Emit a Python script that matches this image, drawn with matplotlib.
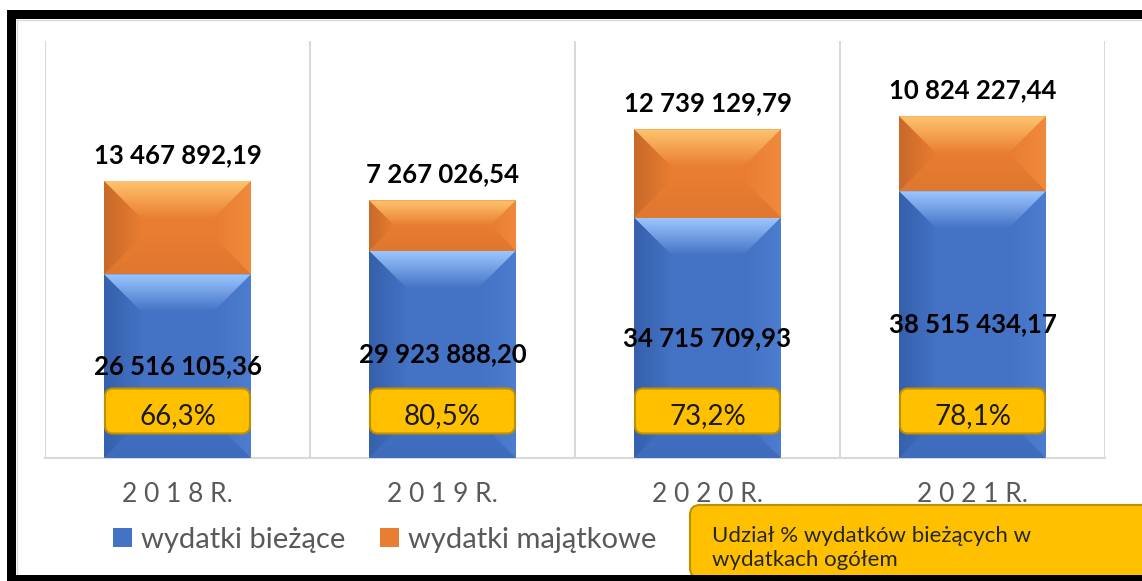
import matplotlib
matplotlib.use('Agg')
import matplotlib.pyplot as plt
import numpy as np
from matplotlib.patches import Polygon, FancyBboxPatch, Rectangle, Patch
from matplotlib.colors import LinearSegmentedColormap

years = ['2018', '2019', '2020', '2021']
biezace = [26516105.36, 29923888.20, 34715709.93, 38515434.17]
majatkowe = [13467892.19, 7267026.54, 12739129.79, 10824227.44]
udzial = [66.3, 80.5, 73.2, 78.1]
series_names = ['wydatki bieżące', 'wydatki majątkowe']
note = 'Udział % wydatków bieżących w\nwydatkach ogółem'

plt.rcParams['font.family'] = ['Lato', 'DejaVu Sans']

W, H = 1142, 581
BLUE = dict(base='#4472C4', top='#9CC6FF', left='#3560AC', right='#4D7DCF', bottom='#3E6BBB')
ORANGE = dict(base='#E97D31', top='#FFC46E', left='#C8692A', right='#F08A3C', bottom='#DF772F')


def pl(v):
    return f'{v:,.2f}'.replace(',', ' ').replace('.', ',')


def fx(x):
    return x / W


def fy(y_top):
    return 1 - y_top / H


def bevel(ax, rect, c, sx, sy, b_px=38):
    x0, y0 = rect.get_x(), rect.get_y()
    w, h = rect.get_width(), rect.get_height()
    x1, y1 = x0 + w, y0 + h
    bpx = min(b_px, h * sy / 2, w * sx / 2)
    bx, by = bpx / sx, bpx / sy
    g = np.linspace(0, 1, 64)
    faces = [
        ([(x0, y1), (x1, y1), (x1 - bx, y1 - by), (x0 + bx, y1 - by)],
         (x0, x1, y1 - by, y1), g[:, None], c['top']),
        ([(x0, y0), (x1, y0), (x1 - bx, y0 + by), (x0 + bx, y0 + by)],
         (x0, x1, y0, y0 + by), g[::-1, None], c['bottom']),
        ([(x0, y0), (x0, y1), (x0 + bx, y1 - by), (x0 + bx, y0 + by)],
         (x0, x0 + bx, y0, y1), g[None, ::-1], c['left']),
        ([(x1, y0), (x1, y1), (x1 - bx, y1 - by), (x1 - bx, y0 + by)],
         (x1 - bx, x1, y0, y1), g[None, :], c['right']),
    ]
    for pts, ext, arr, edge in faces:
        poly = Polygon(pts, closed=True, fc='none', ec='none', transform=ax.transData)
        ax.add_patch(poly)
        cmap = LinearSegmentedColormap.from_list('f', [c['base'], edge])
        im = ax.imshow(arr, cmap=cmap, vmin=0, vmax=1, extent=ext, origin='lower',
                       aspect='auto', interpolation='bilinear', zorder=3)
        im.set_clip_path(poly)


fig = plt.figure(figsize=(W / 100, H / 100), dpi=100)
ax = fig.add_axes([fx(45), fy(458), (1105 - 45) / W, (458 - 41) / H])

x = np.arange(len(years))
ymax = 60.2e6
ax.set_xlim(-0.5, 3.5)
ax.set_ylim(0, ymax)
sx = ax.bbox.width / 4.0
sy = ax.bbox.height / ymax

b1 = ax.bar(x, biezace, width=0.555, color=BLUE['base'], zorder=2)
b2 = ax.bar(x, majatkowe, bottom=biezace, width=0.555, color=ORANGE['base'], zorder=2)
for r in b1:
    bevel(ax, r, BLUE, sx, sy)
for r in b2:
    bevel(ax, r, ORANGE, sx, sy)

for xi, b, m in zip(x, biezace, majatkowe):
    ax.text(xi, b / 2, pl(b), ha='center', va='center', fontsize=18.5,
            fontweight='bold', color='black', zorder=6)
    ax.annotate(pl(m), (xi, b + m), xytext=(0, 10), textcoords='offset points',
                ha='center', va='bottom', fontsize=18.5, fontweight='bold',
                color='black', zorder=6)

for gx in np.arange(-0.5, 4, 1):
    ax.axvline(gx, color='#D9D9D9', lw=1.5, zorder=1)
for s in ['top', 'right', 'left']:
    ax.spines[s].set_visible(False)
ax.spines['bottom'].set_color('#D9D9D9')
ax.spines['bottom'].set_linewidth(1.5)
ax.set_yticks([])
ax.set_xticks(x)
ax.set_xticklabels([' '.join(list(y)) + ' R.' for y in years], fontsize=19,
                   color='#595959')
ax.tick_params(axis='x', length=0, pad=17)
ax.set_xlim(-0.5, 3.5)
ax.set_ylim(0, ymax)

# yellow share boxes
bw, bh = 145, 45
for xi, p in zip(x, udzial):
    cx, cy = ax.transData.transform((xi, 47 / sy))
    box = FancyBboxPatch(((cx - bw / 2) / W, (cy - bh / 2) / H), bw / W, bh / H,
                         boxstyle=f'round,pad=0,rounding_size={8 / W}',
                         mutation_aspect=W / H, fc='#FFC000', ec='#BF9000', lw=1.5,
                         transform=fig.transFigure, zorder=7)
    fig.add_artist(box)
    fig.text(cx / W, (cy - 5) / H, f'{p:.1f}%'.replace('.', ','), ha='center',
             va='center', fontsize=20, color='#1A1A1A', zorder=8)

handles = [Patch(facecolor=BLUE['base']), Patch(facecolor=ORANGE['base'])]
fig.legend(handles, series_names, loc='center left', bbox_to_anchor=(fx(87), fy(540)),
           ncol=2, frameon=False, fontsize=21, labelcolor='#595959',
           handlelength=0.65, handleheight=0.6, handletextpad=0.3, columnspacing=1.2)

# note box
nb = FancyBboxPatch((fx(690), fy(578)), (1160 - 690) / W, (578 - 505) / H,
                    boxstyle=f'round,pad=0,rounding_size={10 / W}', mutation_aspect=W / H,
                    fc='#FFC000', ec='#BF9000', lw=1.5, transform=fig.transFigure, zorder=7)
fig.add_artist(nb)
fig.text(fx(712), fy(548), note, ha='left', va='center', fontsize=16,
         color='#262626', linespacing=1.3, zorder=8)

# frame
for rx, ry, rw, rh, col in [(7, 10, W - 7, 9, 'black'), (7, 10, 9, H - 10, 'black'),
                            (7, 575, W - 7, 6, 'black')]:
    fig.add_artist(Rectangle((fx(rx), fy(ry + rh)), rw / W, rh / H, fc=col, ec='none',
                             transform=fig.transFigure, zorder=10))
fig.add_artist(plt.Line2D([fx(16), 1], [fy(20), fy(20)], color='#D9D9D9', lw=1,
                          transform=fig.transFigure))
fig.add_artist(plt.Line2D([fx(17), fx(17)], [fy(20), fy(574)], color='#D9D9D9', lw=1,
                          transform=fig.transFigure))

fig.savefig('out.png', dpi=100)
